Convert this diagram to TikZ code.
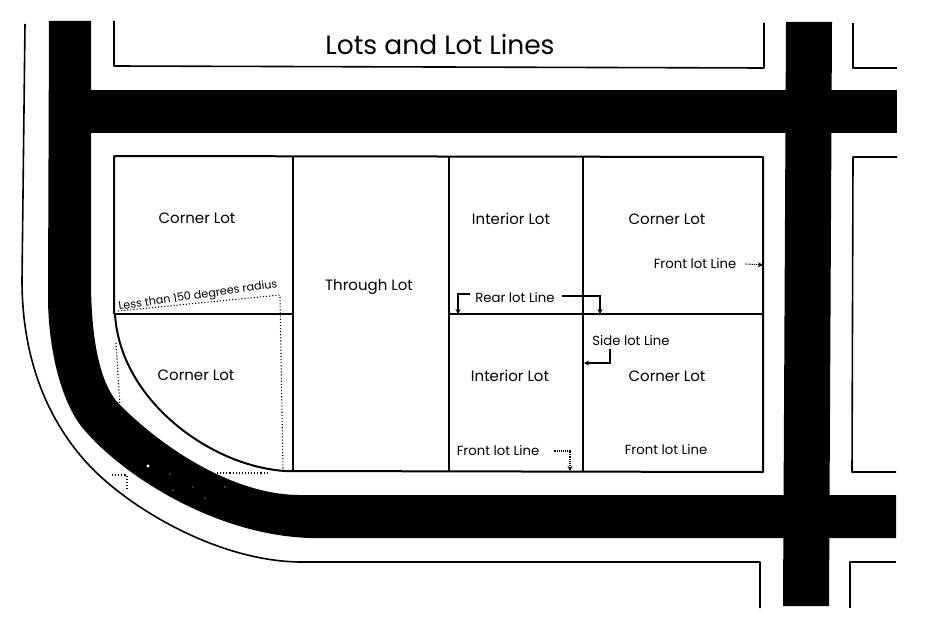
\documentclass[tikz,border=0pt]{standalone}
\usepackage{fontspec}
\setmainfont{Poppins}
\usetikzlibrary{arrows.meta, positioning, calc}
\tikzset{
  lotline/.style={line width=2pt, line join=round},
  plotline/.style={line width=1.6pt, line join=round},
  lotlabel/.style={font=\fontsize{15}{17}\selectfont, inner sep=1pt},
  notelabel/.style={font=\fontsize{13.2}{15}\selectfont, inner sep=1pt},
  leader/.style={line width=1.1pt, -{Stealth[length=5pt, width=5pt]}},
  dotleader/.style={line width=1.1pt, densely dotted, -{Stealth[length=5pt, width=5pt]}},
  sitedots/.style={line width=1.1pt, dotted}
}

\begin{document}
\begin{tikzpicture}[x=1pt, y=-1pt]
  \useasboundingbox (0,0) rectangle (950,634);

  % roads
  \fill[black] (49,21) -- (48,297)
    .. controls (48,345) and (60,405) .. (87,433)
    .. controls (125,476) and (215,535) .. (310,538)
    -- (896,538) -- (896,495) -- (300,495)
    .. controls (235,495) and (165,450) .. (120,405)
    .. controls (100,385) and (91,340) .. (91,280)
    -- (91,21) -- cycle;
  \fill[black] (91,90) rectangle (897,133);
  \fill[black] (786,22) -- (832,22) -- (829,606) -- (783,606) -- cycle;

  % neighbouring blocks
  \draw[plotline] (114,21) -- (114,66) -- (764,68) -- (764,23);
  \draw[plotline] (853,23) -- (853,68) -- (897,68);
  \draw[plotline] (897,157) -- (853,157) -- (852,472) -- (896,472);
  \draw[plotline] (850,608) -- (850,562) -- (896,562);
  \draw[plotline] (25,24) -- (22,280)
    .. controls (22,370) and (55,428) .. (87,463)
    .. controls (125,505) and (215,561) .. (300,562)
    -- (760,562) -- (760,608);

  % the block and its lots
  \draw[lotline] (114,314) -- (114,156) -- (763,157) -- (763,472) -- (285,471)
    .. controls (210,466) and (120,400) .. (115,314);
  \draw[lotline] (293,157) -- (293,471);
  \draw[lotline] (449,157) -- (449,471);
  \draw[lotline] (583,157) -- (583,471);
  \draw[lotline] (114,314) -- (293,314);
  \draw[lotline] (449,314) -- (763,314);

  % radius construction
  \draw[sitedots] (118,311) -- (280,295);
  \draw[sitedots] (280,297) -- (283,470);
  \draw[sitedots] (116,343) -- (120,407);
  \draw[sitedots] (217,473) -- (268,473);
  \draw[sitedots] (112,475) -- (127,475) -- (127,489);
  \fill[white] (148,466) circle[radius=1.6];
  \foreach \px/\py in {170/474, 173/490, 193/487, 205/498, 225/487}
    \fill[white] (\px,\py) circle[radius=0.7];

  % labels
  \node (title) at (440,45) {\fontsize{26.5}{30}\selectfont Lots and Lot Lines};
  \node[lotlabel] (cornerA) at (197,218) {Corner Lot};
  \node[lotlabel] (through) at (369,287) {Through Lot};
  \node[lotlabel] (interiorA) at (511,219) {Interior Lot};
  \node[lotlabel] (cornerB) at (667,219) {Corner Lot};
  \node[lotlabel] (cornerC) at (196,375) {Corner Lot};
  \node[lotlabel] (interiorB) at (510,376) {Interior Lot};
  \node[lotlabel] (cornerD) at (667,376) {Corner Lot};
  \node[notelabel, font=\fontsize{11.2}{13}\selectfont, rotate=8] (radiusnote) at (198,296) {Less than 150 degrees radius};
  \node[notelabel] (frontA) at (695,264) {Front lot Line};
  \node[notelabel] (rear) at (515,298) {Rear lot Line};
  \node[notelabel] (side) at (631,341) {Side lot Line};
  \node[notelabel] (frontB) at (498,451) {Front lot Line};
  \node[notelabel] (frontC) at (666,450) {Front lot Line};

  % leaders
  \coordinate (frontAend) at (763,265);
  \coordinate (rearW) at (458,314);
  \coordinate (rearE) at (600,314);
  \coordinate (sideend) at (584,363);
  \coordinate (frontBend) at (570,471);
  \draw[dotleader] ([xshift=8pt]frontA.east) -- (frontAend);
  \draw[leader] ([shift={(-4pt,4pt)}]rear.west) -- (458,294) -- (rearW);
  \draw[leader] ([shift={(6pt,2pt)}]rear.east) -| (rearE);
  \draw[leader] (610,349) -- (610,363) -- (sideend);
  \draw[dotleader] ([xshift=14pt]frontB.east) -| (frontBend);
\end{tikzpicture}
\end{document}
